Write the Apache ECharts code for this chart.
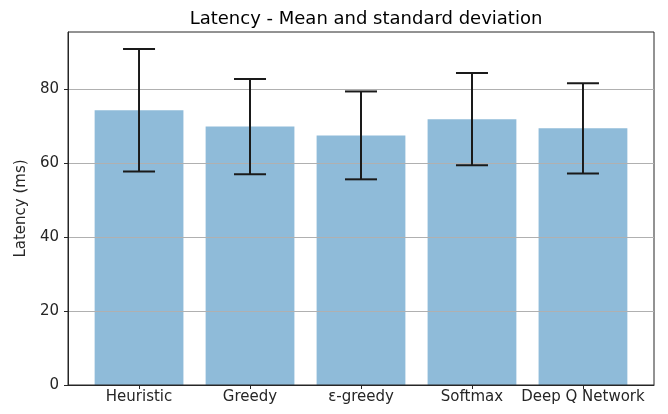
<!DOCTYPE html>
<html>
<head>
<meta charset="utf-8">
<script src="https://cdn.jsdelivr.net/npm/echarts@6/dist/echarts.min.js"></script>
<style>html,body{margin:0;padding:0;background:#fff}#c{width:668px;height:414px}</style>
</head>
<body>
<div id="c"></div>
<script>
const categories = ['Heuristic', 'Greedy', 'ε-greedy', 'Softmax', 'Deep Q Network'];
const means = [74.4, 70.0, 67.6, 72.0, 69.5];
const stds = [16.6, 12.9, 11.9, 12.5, 12.2];
const yTicks = [0, 20, 40, 60, 80];
const xPositions = [0, 1, 2, 3, 4];

const FONT = 'DejaVu Sans';
const barData = categories.map((c, i) => [xPositions[i], means[i]]);
const errData = categories.map((c, i) => [xPositions[i], means[i] - stds[i], means[i] + stds[i]]);

const chart = echarts.init(document.getElementById('c'), null, {renderer: 'canvas'});
chart.setOption({
  animation: false,
  backgroundColor: '#fff',
  title: {
    text: 'Latency - Mean and standard deviation',
    left: 361, top: 5, textAlign: 'center',
    textStyle: {fontFamily: FONT, fontSize: 18, fontWeight: 'normal', color: '#000'}
  },
  grid: {left: 68, right: 14, top: 32, bottom: 29, show: true, borderColor: '#262626', borderWidth: 1, backgroundColor: 'transparent'},
  xAxis: {
    type: 'value', min: -0.64, max: 4.64,
    splitLine: {show: false},
    axisLine: {show: true, onZero: false, lineStyle: {color: '#262626', width: 1}},
    axisTick: {show: true, customValues: xPositions, length: 4, lineStyle: {color: '#262626'}},
    axisLabel: {customValues: xPositions, formatter: v => categories[Math.round(v)], fontFamily: FONT, fontSize: 15, color: '#262626', margin: 5}
  },
  yAxis: {
    type: 'value', min: 0, max: 95.6,
    name: 'Latency (ms)', nameLocation: 'middle', nameGap: 37,
    nameTextStyle: {fontFamily: FONT, fontSize: 15, color: '#262626'},
    splitLine: {show: true, lineStyle: {color: '#b0b0b0', width: 1}},
    axisLine: {show: true, onZero: false, lineStyle: {color: '#262626', width: 1}},
    axisTick: {show: true, customValues: yTicks, length: 4, lineStyle: {color: '#262626'}},
    axisLabel: {customValues: yTicks, fontFamily: FONT, fontSize: 15, color: '#262626', margin: 9}
  },
  series: [
    {
      type: 'custom', data: barData, z: -1,
      encode: {x: 0, y: 1},
      renderItem(params, api) {
        const x = api.value(0), m = api.value(1);
        const p0 = api.coord([x - 0.4, m]);
        const p1 = api.coord([x + 0.4, 0]);
        return {type: 'rect', shape: {x: p0[0], y: p0[1], width: p1[0] - p0[0], height: p1[1] - p0[1]},
          style: {fill: '#8fbbd9'}};
      }
    },
    {
      type: 'custom', data: errData, z: 4,
      encode: {x: 0, y: [1, 2]},
      renderItem(params, api) {
        const x = api.value(0);
        const lo = api.coord([x, api.value(1)]);
        const hi = api.coord([x, api.value(2)]);
        const cap = 16;
        const st = {stroke: '#1a1a1a', lineWidth: 2};
        return {type: 'group', children: [
          {type: 'line', shape: {x1: lo[0], y1: lo[1], x2: hi[0], y2: hi[1]}, style: st},
          {type: 'line', shape: {x1: lo[0] - cap, y1: lo[1], x2: lo[0] + cap, y2: lo[1]}, style: st},
          {type: 'line', shape: {x1: hi[0] - cap, y1: hi[1], x2: hi[0] + cap, y2: hi[1]}, style: st}
        ]};
      }
    }
  ]
});
</script>
</body>
</html>
